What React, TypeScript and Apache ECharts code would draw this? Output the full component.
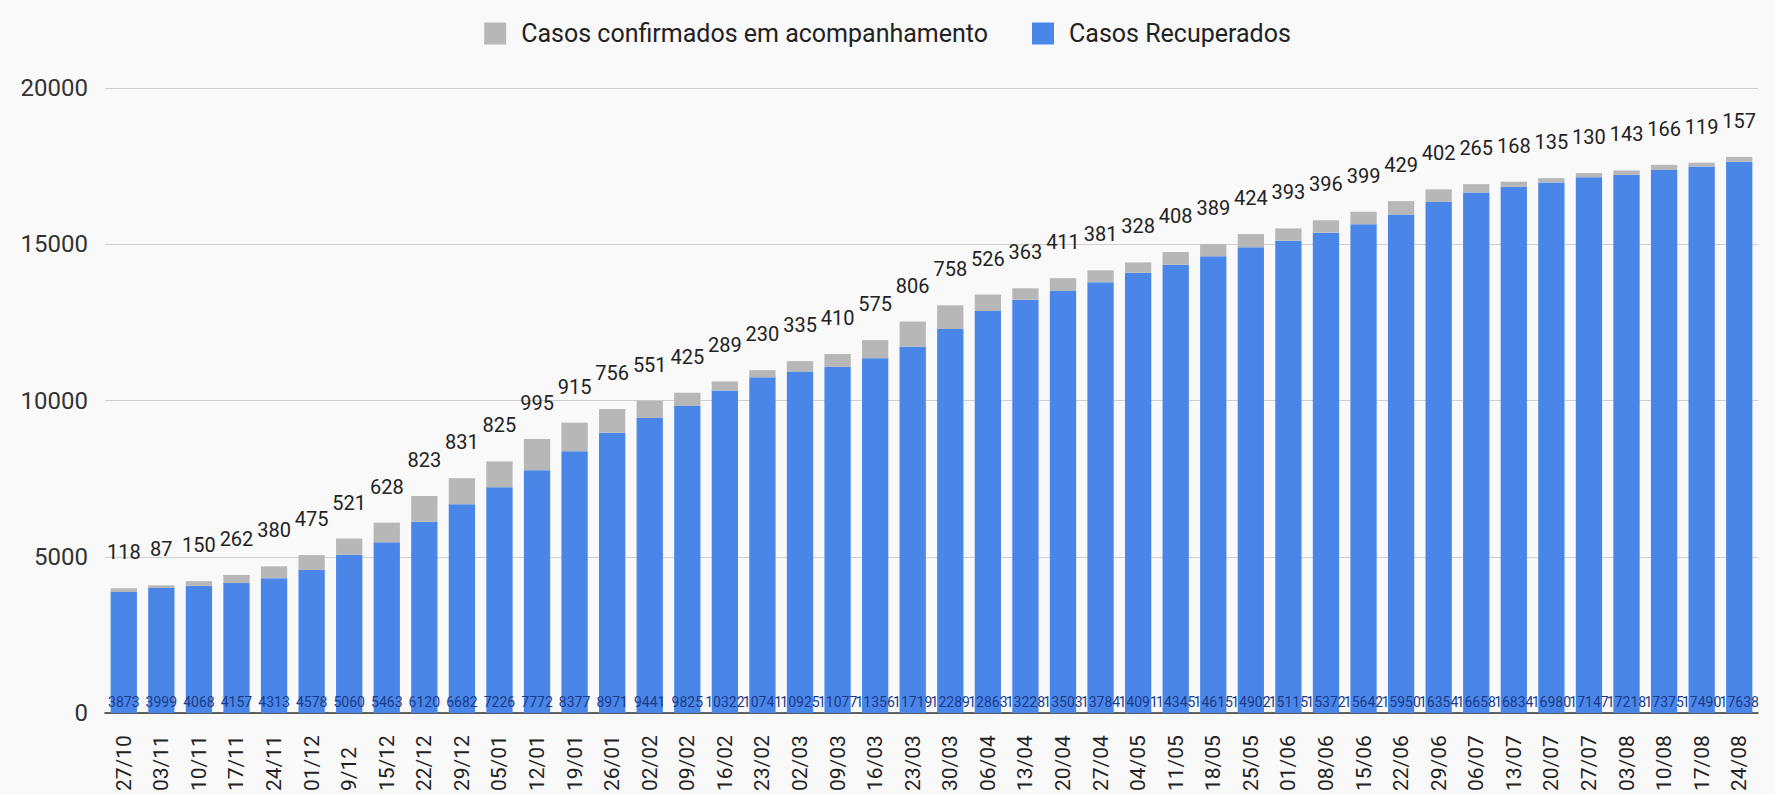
import React, { useEffect, useRef } from "react";
import * as echarts from "echarts";

const categories = [
  "27/10", "03/11", "10/11", "17/11", "24/11", "01/12", "9/12", "15/12", "22/12", "29/12",
  "05/01", "12/01", "19/01", "26/01", "02/02", "09/02", "16/02", "23/02", "02/03", "09/03",
  "16/03", "23/03", "30/03", "06/04", "13/04", "20/04", "27/04", "04/05", "11/05", "18/05",
  "25/05", "01/06", "08/06", "15/06", "22/06", "29/06", "06/07", "13/07", "20/07", "27/07",
  "03/08", "10/08", "17/08", "24/08",
];

const recovered = [
  3873, 3999, 4068, 4157, 4313, 4578, 5060, 5463, 6120, 6682,
  7226, 7772, 8377, 8971, 9441, 9825, 10322, 10741, 10925, 11077,
  11356, 11719, 12289, 12863, 13228, 13503, 13784, 14091, 14345, 14615,
  14902, 15115, 15372, 15642, 15950, 16354, 16658, 16834, 16980, 17147,
  17218, 17375, 17490, 17638,
];

const active = [
  118, 87, 150, 262, 380, 475, 521, 628, 823, 831,
  825, 995, 915, 756, 551, 425, 289, 230, 335, 410,
  575, 806, 758, 526, 363, 411, 381, 328, 408, 389,
  424, 393, 396, 399, 429, 402, 265, 168, 135, 130,
  143, 166, 119, 157,
];

const yTicks = { min: 0, max: 20000, interval: 5000 };

const FONT = "Roboto, 'Liberation Sans', Arial, sans-serif";

export default function App() {
  const ref = useRef<HTMLDivElement>(null);

  useEffect(() => {
    if (!ref.current) return;
    document.body.style.margin = "0";
    const chart = echarts.init(ref.current, undefined, { renderer: "svg" });
    chart.setOption({
      animation: false,
      backgroundColor: "#f9f9f9",
      textStyle: { fontFamily: FONT },
      legend: {
        top: 16,
        left: "center",
        itemWidth: 22,
        itemHeight: 22,
        itemGap: 44,
        icon: "rect",
        textStyle: {
          fontSize: 25,
          color: "#222",
          fontFamily: FONT,
          padding: [0, 0, 0, 10],
        },
        data: ["Casos confirmados em acompanhamento", "Casos Recuperados"],
      },
      grid: { left: 105, right: 17, top: 88, bottom: 82 },
      xAxis: {
        type: "category",
        data: categories,
        axisTick: { show: false },
        axisLine: { lineStyle: { color: "#333", width: 1.5 } },
        axisLabel: {
          rotate: 90,
          align: "left",
          margin: 78,
          interval: 0,
          fontSize: 21,
          color: "#222",
          fontFamily: FONT,
        },
      },
      yAxis: {
        type: "value",
        min: yTicks.min,
        max: yTicks.max,
        interval: yTicks.interval,
        axisLine: { show: false },
        axisTick: { show: false },
        axisLabel: {
          fontSize: 24,
          color: "#333",
          margin: 17,
          fontFamily: FONT,
          formatter: (v: number) => String(v),
        },
        splitLine: { lineStyle: { color: "#cfcfcf", width: 1 } },
      },
      series: [
        {
          name: "Casos Recuperados",
          type: "bar",
          stack: "total",
          data: recovered,
          barCategoryGap: "30%",
          itemStyle: { color: "#4a86e8" },
          label: {
            show: true,
            position: "insideBottom",
            distance: 4,
            fontSize: 14,
            color: "#1a3a8a",
            fontFamily: FONT,
          },
        },
        {
          name: "Casos confirmados em acompanhamento",
          type: "bar",
          stack: "total",
          data: active,
          barCategoryGap: "30%",
          itemStyle: { color: "#b7b7b7" },
          label: {
            show: true,
            position: "top",
            distance: 26,
            fontSize: 20,
            color: "#222",
            fontFamily: FONT,
          },
        },
      ],
    });
    return () => chart.dispose();
  }, []);

  return <div ref={ref} style={{ width: 1775, height: 795 }} />;
}
